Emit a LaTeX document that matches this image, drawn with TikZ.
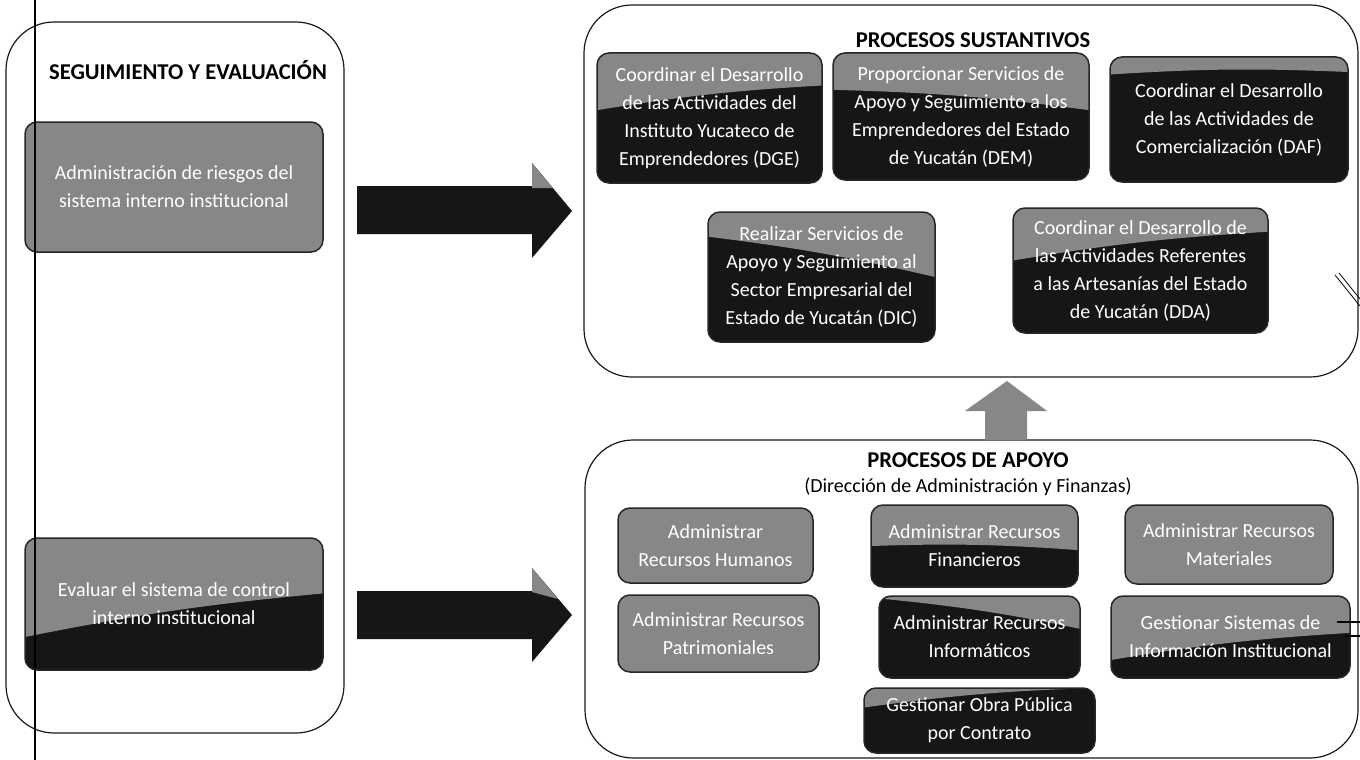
\documentclass[tikz,border=0pt]{standalone}
\usepackage{fontspec}
\setmainfont{Carlito}
\usetikzlibrary{calc}
\definecolor{gt}{HTML}{878787}
\definecolor{dk}{HTML}{161616}
\tikzset{
  box/.style={draw=black!85, line width=1.5pt, rounded corners=12pt, text=white,
    align=center, inner sep=0pt, font=\fontsize{20}{28}\selectfont},
  grayfill/.style={fill=gt},
  split/.style 2 args={fill=dk, path picture={
    \fill[gt, sharp corners] (path picture bounding box.north west) -- (path picture bounding box.north east)
      -- ($(path picture bounding box.north east)!#2!(path picture bounding box.south east)$)
      to[bend right=3] ($(path picture bounding box.north west)!#1!(path picture bounding box.south west)$) -- cycle;
  }},
  cont/.style={draw=black!90, line width=1.2pt, rounded corners=48pt, inner sep=0pt},
  ttl/.style={font=\fontsize{22.6}{27}\selectfont\bfseries, inner sep=0pt},
  sub/.style={font=\fontsize{20}{24}\selectfont, inner sep=0pt},
  blk/.style={fill=dk},
  gar/.style={fill=gt},
}
\begin{document}
\begin{tikzpicture}[x=1pt,y=-1pt]
\useasboundingbox (0,0) rectangle (1360,760);
\fill[white] (0,0) rectangle (1360,760);

% containers
\node[cont, minimum width=338pt, minimum height=711pt] (left) at (175,377.5) {};
\node[cont, minimum width=774pt, minimum height=372pt] (top) at (971,191) {};
\node[cont, minimum width=773pt, minimum height=318pt] (bot) at (971.5,599) {};

% titles
\node[ttl] (tse) at (188,70) {SEGUIMIENTO Y EVALUACIÓN};
\node[ttl] (tps) at (973,40) {PROCESOS SUSTANTIVOS};
\node[ttl] (tpa) at (968,460) {PROCESOS DE APOYO};
\node[sub] (tsub) at (968,487) {(Dirección de Administración y Finanzas)};

% left boxes
\node[box, grayfill, minimum width=298pt, minimum height=130pt] (riesgos) at (174,187)
  {Administración de riesgos del\\sistema interno institucional};
\node[box, split={0.75}{0.42}, minimum width=298pt, minimum height=132pt] (evaluar) at (174,604)
  {Evaluar el sistema de control\\interno institucional};

% sustantivos
\node[box, split={0.44}{0.25}, minimum width=225pt, minimum height=130pt] (dge) at (709.5,118)
  {Coordinar el Desarrollo\\de las Actividades del\\Instituto Yucateco de\\Emprendedores (DGE)};
\node[box, split={0.29}{0.45}, minimum width=256pt, minimum height=127pt] (dem) at (961,116.5)
  {Proporcionar Servicios de\\Apoyo y Seguimiento a los\\Emprendedores del Estado\\de Yucatán (DEM)};
\node[box, split={0.14}{0.12}, minimum width=238pt, minimum height=125pt] (daf) at (1229,119.5)
  {Coordinar el Desarrollo\\de las Actividades de\\Comercialización (DAF)};
\node[box, split={0.19}{0.5}, minimum width=227pt, minimum height=130pt] (dic) at (821.5,277)
  {Realizar Servicios de\\Apoyo y Seguimiento al\\Sector Empresarial del\\Estado de Yucatán (DIC)};
\node[box, split={0.42}{0.19}, minimum width=255pt, minimum height=125pt] (dda) at (1140.5,270.5)
  {Coordinar el Desarrollo de\\las Actividades Referentes\\a las Artesanías del Estado\\de Yucatán (DDA)};

% apoyo
\node[box, grayfill, minimum width=195pt, minimum height=75pt] (rh) at (715.5,545.5)
  {Administrar\\Recursos Humanos};
\node[box, grayfill, minimum width=201pt, minimum height=77pt] (pat) at (718.5,633.5)
  {Administrar Recursos\\Patrimoniales};
\node[box, split={0.5}{0.55}, minimum width=207pt, minimum height=82pt] (fin) at (974.5,546)
  {Administrar Recursos\\Financieros};
\node[box, split={0.03}{0.4}, minimum width=201pt, minimum height=82pt] (inf) at (979.5,637)
  {Administrar Recursos\\Informáticos};
\node[box, split={0.3}{0.0}, minimum width=231pt, minimum height=65pt] (obra) at (979.5,720.5)
  {Gestionar Obra Pública\\por Contrato};
\node[box, grayfill, minimum width=208pt, minimum height=79pt] (mat) at (1229,544.5)
  {Administrar Recursos\\Materiales};
\node[box, split={0.78}{0.45}, minimum width=239pt, minimum height=82pt] (gest) at (1230.5,637)
  {Gestionar Sistemas de\\Información Institucional};

% block arrows
\fill[blk] (357,186) -- (532,186) -- (532,163) -- (572,211) -- (532,258) -- (532,234) -- (357,234) -- cycle;
\fill[gar] (532,163) -- (553,188) -- (532,188) -- cycle;
\fill[blk] (357,591) -- (532,591) -- (532,568) -- (572,615) -- (532,662) -- (532,639) -- (357,639) -- cycle;
\fill[gar] (532,568) -- (558,599) -- (532,592) -- cycle;
\fill[gar] (985,440) -- (985,411) -- (965,411) -- (1007,381) -- (1047,411) -- (1027,411) -- (1027,440) -- cycle;

% vertical line (drawn over the left boxes)
\coordinate (vt) at (35,0);
\coordinate (vb) at (35,760);
\draw[line width=1.5pt] (vt) -- (vb);

% small marks at right edge
\draw[line width=1.5pt] (1337,622) -- (1360,622);
\draw[line width=1.5pt] (1345,636) -- (1360,636);
\draw[line width=0.8pt] (1335,275) -- (1360,306);
\draw[line width=0.8pt] (1339,273) -- (1360,299);
\end{tikzpicture}
\end{document}
